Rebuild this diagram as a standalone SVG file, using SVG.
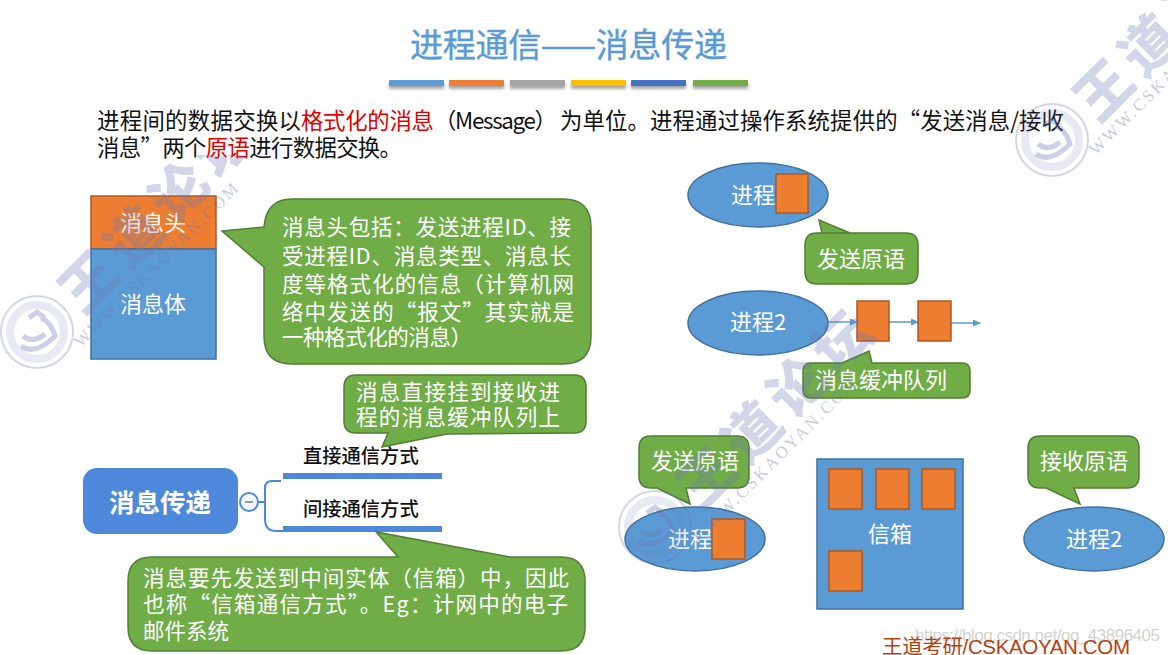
<svg xmlns="http://www.w3.org/2000/svg" width="1168" height="655" viewBox="0 0 1168 655">
<style>
text{font-family:"Noto Sans CJK SC","Noto Sans",sans-serif}
.w{fill:#fff;font-size:22px;text-anchor:middle}
.c{fill:#fff;font-size:21.5px}
.b{fill:#111;font-size:22.4px}
.r{fill:#E00000}
.blue{fill:#5B9BD5;stroke:#41719C;stroke-width:1.5}
.or{fill:#ED7D31;stroke:#AE5A21;stroke-width:1.5}
.gr{fill:#70AD47;stroke:#507E32;stroke-width:1.5}
.ln{fill:none;stroke:#5B9BD5;stroke-width:1.5}
.m{fill:#111;font-size:19.3px;font-weight:500}
.wm{fill:#6C76B4;fill-opacity:.3;font-weight:900;font-size:56px;letter-spacing:8px}
.wu{fill:#6C76B4;fill-opacity:.4;font-family:"Liberation Serif",serif;font-size:17px;letter-spacing:2.5px}
</style>
<defs>
<marker id="a" markerWidth="8" markerHeight="8" refX="7" refY="3.5" orient="auto" markerUnits="userSpaceOnUse"><path d="M0 0L8 3.5L0 7z" fill="#5B9BD5"/></marker>
<filter id="sh" x="-10%" y="-50%" width="120%" height="250%"><feDropShadow dx="0" dy="3" stdDeviation="1.5" flood-color="#000" flood-opacity=".35"/></filter>
<clipPath id="cl"><rect x="0" y="155" width="1168" height="500"/></clipPath>
<g id="seal"><circle r="36" fill="none" stroke="#6C76B4" stroke-opacity=".3" stroke-width="2"/><circle r="27" fill="none" stroke="#6C76B4" stroke-opacity=".16" stroke-width="8"/><path d="M-16 14Q-2 24 18 4Q14-10 4-14M-14 4Q-4 12 8 2M-8-14L0-20L8-14" fill="none" stroke="#6C76B4" stroke-opacity=".35" stroke-width="5"/></g>
<g id="wmk"><use href="#seal"/><text class="wm" transform="rotate(-45 32 -30)" x="32" y="-10">王道论坛</text><text class="wu" transform="rotate(-45 44 16)" x="44" y="16">WWW.CSKAOYAN.COM</text></g>
</defs>
<rect width="1168" height="655" fill="#fff"/>
<g id="title"><text x="410" y="57" font-size="33" fill="#5B9BD5" stroke="#5B9BD5" stroke-width=".4" textLength="317">进程通信——消息传递</text>
<g filter="url(#sh)"><rect x="389" y="80" width="55" height="6" fill="#5B9BD5"/><rect x="449" y="80" width="55" height="6" fill="#ED7D31"/><rect x="510" y="80" width="55" height="6" fill="#A5A5A5"/><rect x="571" y="80" width="55" height="6" fill="#FFC000"/><rect x="631" y="80" width="55" height="6" fill="#4472C4"/><rect x="693" y="80" width="55" height="6" fill="#70AD47"/></g></g>
<g id="intro"><text class="b" x="97" y="129" textLength="204">进程间的数据交换以</text><text class="b r" x="301" y="129" textLength="133">格式化的消息</text><text class="b" x="434" y="129" textLength="123">（Message）</text><text class="b" x="560" y="129" textLength="504">为单位。进程通过操作系统提供的“发送消息/接收</text>
<text class="b" x="97" y="156" textLength="305">消息”两个<tspan class="r">原语</tspan>进行数据交换。</text></g>
<g id="msg-head"><rect class="or" x="91" y="196" width="125" height="53"/><text class="w" x="153" y="231">消息头</text></g>
<g id="msg-body"><rect class="blue" x="91" y="249" width="125" height="110"/><text class="w" x="153" y="312">消息体</text></g>
<g id="callout-head"><path class="gr" d="M292 199H563Q591 199 591 227V336Q591 364 563 364H292Q264 364 264 336V267L222 231L264 227Q266 199 292 199Z"/>
<text class="c" x="282" y="235" textLength="289">消息头包括：发送进程ID、接</text><text class="c" x="282" y="264" textLength="289">受进程ID、消息类型、消息长</text><text class="c" x="282" y="292" textLength="292">度等格式化的信息（计算机网</text><text class="c" x="282" y="320" textLength="292">络中发送的“报文”其实就是</text><text class="c" x="282" y="345" textLength="190">一种格式化的消息）</text></g>
<g id="callout-direct"><path class="gr" d="M356 375H574Q586 375 586 387V421Q586 433 574 433L447 434L382 447L388 433H356Q344 433 344 421V387Q344 375 356 375Z"/>
<text class="c" x="356" y="400" textLength="204">消息直接挂到接收进</text><text class="c" x="356" y="425" textLength="204">程的消息缓冲队列上</text></g>
<g id="root"><rect x="83" y="468" width="155" height="66" rx="14" fill="#4E88DB"/><text x="160" y="512" text-anchor="middle" font-size="25.5" font-weight="700" fill="#fff">消息传递</text></g>
<g id="connectors">
<path d="M258 502H264M281 481H272Q265 481 265 488V519Q265 531 276 531H283" fill="none" stroke="#4E88DB" stroke-width="2"/>
<circle cx="249" cy="502" r="9" fill="#F4F7FC" stroke="#4E88DB" stroke-width="2"/><path d="M245 502H253" stroke="#8E99AC" stroke-width="2"/>
<path class="ln" d="M828 322H857" marker-end="url(#a)"/><path class="ln" d="M889 322H918" marker-end="url(#a)"/><path class="ln" d="M951 323H980" marker-end="url(#a)"/>
</g>
<g id="direct"><rect x="283" y="473" width="159" height="6" fill="#4E88DB"/><text class="m" x="303" y="463">直接通信方式</text></g>
<g id="indirect"><rect x="283" y="526" width="159" height="6" fill="#4E88DB"/><text class="m" x="303" y="516">间接通信方式</text></g>
<g id="callout-indirect"><path class="gr" d="M152 557H398L376 532L510 557H561Q585 557 585 581V627Q585 651 561 651H152Q128 651 128 627V581Q128 557 152 557Z"/>
<text class="c" x="143" y="586" textLength="426">消息要先发送到中间实体（信箱）中，因此</text><text class="c" x="143" y="612" textLength="425">也称“信箱通信方式”。Eg：计网中的电子</text><text class="c" x="143" y="639">邮件系统</text></g>
<g id="proc1"><ellipse class="blue" cx="758" cy="195" rx="70" ry="32"/><text class="w" x="753" y="203">进程</text><rect class="or" x="776" y="174" width="32" height="39"/></g>
<g id="send1"><path class="gr" d="M817 233H850L819 220L822 233H817Q805 233 805 245V272Q805 284 817 284H906Q918 284 918 272V245Q918 233 906 233Z"/><text class="w" x="861" y="267">发送原语</text></g>
<g id="proc2"><ellipse class="blue" cx="758" cy="323" rx="70" ry="32"/><text class="w" x="758" y="330">进程2</text></g>
<g id="q1"><rect class="or" x="857" y="301" width="32" height="40"/></g>
<g id="q2"><rect class="or" x="918" y="301" width="33" height="40"/></g>
<g id="queue-label"><path class="gr" d="M811 363H842L869 351L872 363H962Q970 363 970 371V390Q970 398 962 398H811Q803 398 803 390V371Q803 363 811 363Z"/><text class="w" x="881" y="388">消息缓冲队列</text></g>
<g id="send2"><path class="gr" d="M651 436H737Q749 436 749 448V476Q749 488 737 488H686L690 504L657 488H651Q639 488 639 476V448Q639 436 651 436Z"/><text class="w" x="695" y="469">发送原语</text></g>
<g id="proc3"><ellipse class="blue" cx="695" cy="539" rx="70" ry="32"/><text class="w" x="690" y="547">进程</text><rect class="or" x="712" y="519" width="33" height="40"/></g>
<g id="mailbox"><rect class="blue" x="817" y="459" width="146" height="150"/><text class="w" x="890" y="542">信箱</text><rect class="or" x="829" y="469" width="33" height="40"/><rect class="or" x="876" y="469" width="33" height="40"/><rect class="or" x="922" y="469" width="33" height="40"/><rect class="or" x="829" y="551" width="33" height="40"/></g>
<g id="recv"><path class="gr" d="M1040 436H1127Q1139 436 1139 448V476Q1139 488 1127 488H1074L1080 504L1046 488H1040Q1028 488 1028 476V448Q1028 436 1040 436Z"/><text class="w" x="1084" y="469">接收原语</text></g>
<g id="proc4"><ellipse class="blue" cx="1094" cy="539" rx="70" ry="32"/><text class="w" x="1094" y="547">进程2</text></g>
<g id="watermarks"><g clip-path="url(#cl)"><use href="#wmk" x="37" y="332"/></g><use href="#wmk" x="655" y="527"/><use href="#wmk" x="1052" y="140"/></g>
<g id="footer"><text x="915" y="641" font-size="17" fill="#BDBDBD" fill-opacity=".7" style="font-family:'Liberation Sans',sans-serif" textLength="245">https://blog.csdn.net/qq_43896405</text>
<text x="882" y="654" font-size="20.5" fill="#B5400F" textLength="248" style="font-family:'Liberation Sans','Noto Sans CJK SC',sans-serif">王道考研/CSKAOYAN.COM</text></g>
</svg>
